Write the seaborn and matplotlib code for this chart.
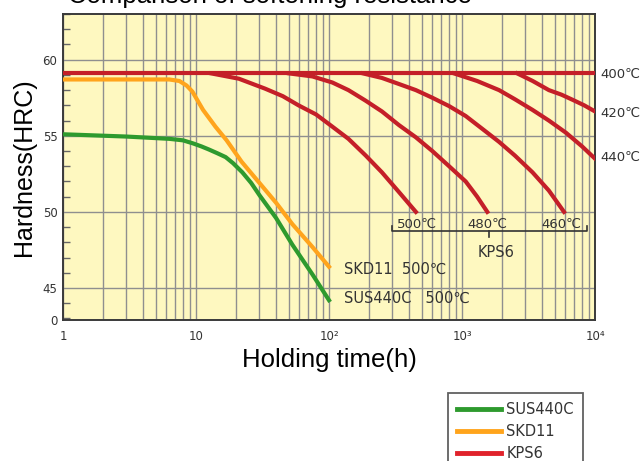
import matplotlib
matplotlib.use("Agg")
import matplotlib.pyplot as plt
import matplotlib.ticker as mticker
from matplotlib.lines import Line2D
import seaborn as sns
import pandas as pd

# values: holding time (h) vs hardness (HRC)
sus_time = [1, 3, 6.3, 8, 9.5, 11, 12.5, 14.5, 16.7, 19, 22.3, 26, 30, 40, 53, 75, 100]
sus_hrc = [55.1, 54.95, 54.8, 54.7, 54.5, 54.3, 54.1, 53.85, 53.6, 53.2, 52.6, 51.9, 51.1,
           49.6, 47.85, 45.9, 44.2]

skd_time = [1, 6.3, 7.5, 8.5, 9.4, 10.3, 11.3, 14, 17, 22, 30, 40, 53, 75, 100]
skd_hrc = [58.7, 58.7, 58.6, 58.3, 57.9, 57.3, 56.7, 55.6, 54.7, 53.3, 51.9, 50.6, 49.2, 47.7, 46.4]

kps400_time = [1, 10000]
kps400_hrc = [59.1, 59.1]
kps420_time = [2600, 3400, 4500, 5600, 6840, 8300, 10000]
kps420_hrc = [59.1, 58.6, 58.0, 57.7, 57.35, 57.0, 56.6]
kps440_time = [870, 1300, 1900, 2500, 3390, 4500, 6050, 8000, 10000]
kps440_hrc = [59.1, 58.6, 58.0, 57.4, 56.7, 56.0, 55.2, 54.3, 53.5]
kps460_time = [180, 250, 336, 450, 598, 800, 1066, 1400, 1900, 2500, 3390, 4500, 5850]
kps460_hrc = [59.1, 58.8, 58.4, 58.0, 57.5, 56.95, 56.3, 55.5, 54.6, 53.7, 52.6, 51.4, 50.0]
kps480_time = [50, 75, 106, 140, 189, 250, 336, 450, 598, 800, 1066, 1300, 1550]
kps480_hrc = [59.1, 58.9, 58.5, 58.0, 57.3, 56.6, 55.7, 54.9, 54.0, 53.0, 52.0, 51.0, 50.0]
kps500_time = [13, 21, 33, 45, 59, 80, 106, 140, 189, 250, 336, 450]
kps500_hrc = [59.1, 58.75, 58.1, 57.6, 57.0, 56.4, 55.6, 54.8, 53.7, 52.6, 51.3, 50.0]

x_ticks = [1, 10, 100, 1000, 10000]
x_labels = ["1", "10", "10²", "10³", "10⁴"]
y_ticks = [42.9, 45, 50, 55, 60]
y_labels = ["0", "45", "50", "55", "60"]

# build one long table for seaborn
rows = []
for name, t, h in [("SUS440C", sus_time, sus_hrc), ("SKD11", skd_time, skd_hrc),
                   ("KPS6 400", kps400_time, kps400_hrc), ("KPS6 420", kps420_time, kps420_hrc),
                   ("KPS6 440", kps440_time, kps440_hrc), ("KPS6 460", kps460_time, kps460_hrc),
                   ("KPS6 480", kps480_time, kps480_hrc), ("KPS6 500", kps500_time, kps500_hrc)]:
    for a, b in zip(t, h):
        rows.append({"curve": name, "time": a, "hrc": b})
df = pd.DataFrame(rows)

green = "#2E9A2E"
orange = "#FFA41C"
red = "#C41F28"
palette = {"SUS440C": green, "SKD11": orange}
for c in df["curve"].unique():
    if c.startswith("KPS6"):
        palette[c] = red

plt.rcParams["font.family"] = ["Liberation Sans", "DejaVu Sans"]

fig = plt.figure(figsize=(6.43, 4.61), dpi=100)
ax = fig.add_axes([63 / 643, 1 - 320 / 461, 532 / 643, 306 / 461])
ax.set_facecolor("#FEF8C0")
ax.set_xscale("log")

sns.lineplot(data=df, x="time", y="hrc", hue="curve", palette=palette, estimator=None,
             sort=False, linewidth=3, legend=False, ax=ax, zorder=3)

ax.set_xlim(1, 10000)
ax.set_ylim(42.9, 63.0)

ax.set_xticks(x_ticks)
ax.set_xticklabels(x_labels, family="DejaVu Sans", fontsize=8.5, color="#333333")
ax.xaxis.set_minor_locator(mticker.LogLocator(base=10, subs=range(2, 10)))
ax.xaxis.set_minor_formatter(mticker.NullFormatter())
ax.set_yticks(y_ticks)
ax.set_yticklabels(y_labels, family="DejaVu Sans", fontsize=8.5, color="#333333")
ax.yaxis.set_minor_locator(mticker.MultipleLocator(1))

ax.tick_params(axis="x", which="both", length=0, pad=7)
ax.tick_params(axis="y", which="major", length=0, pad=4)
ax.tick_params(axis="y", which="minor", direction="in", length=5, width=1, color="#666666")

ax.grid(axis="x", which="both", color="#8f8f8f", linewidth=1, zorder=1)
ax.grid(axis="y", which="major", color="#8f8f8f", linewidth=1, zorder=1)
ax.set_axisbelow(True)
for s in ax.spines.values():
    s.set_color("#3a3a3a")
    s.set_linewidth(1.4)

ax.set_xlabel("Holding time(h)", fontsize=18.5, labelpad=4)
ax.set_ylabel("Hardness(HRC)", fontsize=18, labelpad=5)

fig.text(68 / 643, 1 - 3 / 461, "Comparison of softening resistance", fontsize=18.5,
         ha="left", va="baseline")

# labels next to the curves
txt = dict(family="DejaVu Sans", fontsize=9.5, color="#333333")
big = dict(family="DejaVu Sans", fontsize=10.5, color="#333333")
ax.text(1.01, 59.05, "400℃", transform=ax.get_yaxis_transform(), va="center", clip_on=False, **txt)
ax.text(1.01, 56.5, "420℃", transform=ax.get_yaxis_transform(), va="center", clip_on=False, **txt)
ax.text(1.01, 53.6, "440℃", transform=ax.get_yaxis_transform(), va="center", clip_on=False, **txt)

ax.text(130, 46.2, "SKD11  500℃", va="center", **big)
ax.text(130, 44.3, "SUS440C   500℃", va="center", **big)

for xt, lab in [(459, "500℃"), (1542, "480℃"), (5550, "460℃")]:
    ax.text(xt, 49.15, lab, ha="center", va="center", **txt)
# bracket under KPS6 end temperatures
ax.plot([298, 298, 8710, 8710], [49.05, 48.74, 48.74, 49.05], color="#333333", lw=1.2, zorder=4)
ax.plot([1596, 1596], [48.74, 48.35], color="#333333", lw=1.2, zorder=4)
ax.text(1800, 47.35, "KPS6", ha="center", va="center", **big)

handles = [Line2D([], [], color=green, lw=3.5), Line2D([], [], color=orange, lw=3.5),
           Line2D([], [], color="#E0222B", lw=3.5)]
leg = fig.legend(handles, ["SUS440C", "SKD11", "KPS6"], loc="upper left",
                 bbox_to_anchor=(448 / 643, 1 - 393 / 461),
                 prop={"family": "DejaVu Sans", "size": 10.5}, frameon=True,
                 fancybox=False, borderpad=0.6, handlelength=3.0, handletextpad=0.4,
                 labelspacing=0.5, borderaxespad=0)
leg.get_frame().set_edgecolor("#3a3a3a")
leg.get_frame().set_linewidth(1.3)
for t in leg.get_texts():
    t.set_color("#333333")

fig.savefig("out.png", dpi=100)
